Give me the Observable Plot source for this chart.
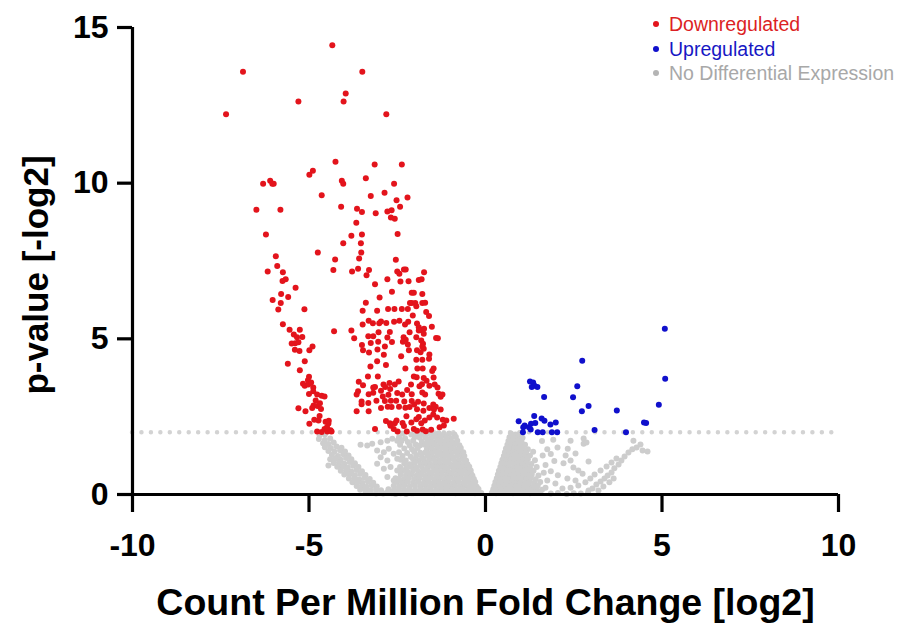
<!DOCTYPE html>
<html>
<head>
<meta charset="utf-8">
<script src="https://cdn.jsdelivr.net/npm/d3@7"></script>
<script src="https://cdn.jsdelivr.net/npm/@observablehq/plot@0.6"></script>
<style>
  body { margin: 0; background: #fff; }
  #wrap { position: relative; width: 897px; height: 625px; font-family: "Liberation Sans", Arial, sans-serif; }
  #legend { position: absolute; left: 653px; top: 12px; font-size: 19.5px; line-height: 24.5px; }
  .item { display: flex; align-items: center; white-space: nowrap; }
  .sw { width: 6px; height: 6px; border-radius: 50%; margin-right: 10px; display: inline-block; }
</style>
</head>
<body>
<div id="wrap"><div id="legend"></div></div>
<script>
// Volcano plot: log2 fold change (CPM) vs -log2 p-value

const xTicks = [-10, -5, 0, 5, 10];
const yTicks = [0, 5, 10, 15];
const cutoff = 2;
const xTitle = "Count Per Million Fold Change [log2]";
const yTitle = "p-value [-log2]";
const legendLabels = ["Downregulated", "Upregulated", "No Differential Expression"];
const legendColors = ["#dc1f24", "#1717c4", "#a8a8a8"];
const legendDots = ["#e3141c", "#1010cc", "#b4b4b4"];
const dotColors = ["#e3141c", "#1010cc", "#cdcdcd"];

// Downregulated genes [log2 FC, -log2 p]
const downregulated = [
[-4.34,14.43],[-6.87,13.58],[-3.49,13.58],[-3.96,12.88],[-5.30,12.62],[-4.02,12.62],[-7.35,12.21],[-2.81,12.21],
[-4.25,10.69],[-3.14,10.60],[-2.37,10.60],[-4.89,10.40],[-4.99,10.27],[-6.10,10.08],[-6.30,9.98],[-6.04,9.98],[-6.00,9.98],[-4.07,10.08],[-4.03,9.98],[-3.39,10.16],[-2.59,9.98],[-4.64,9.61],[-3.25,9.59],[-2.86,9.69],[-2.21,9.54],[-2.52,9.45],[-6.49,9.15],[-5.81,9.15],[-4.09,9.24],[-3.64,9.18],[-3.50,9.07],[-3.11,9.03],[-2.78,9.09],[-2.66,9.13],[-2.42,9.24],[-2.68,8.90],[-2.57,8.86],[-3.66,8.73],[-6.22,8.35],[-3.80,8.31],[-3.50,8.35],[-2.49,8.37],
[-4.03,8.07],[-3.53,8.07],[-4.75,7.77],[-3.52,7.77],[-5.94,7.65],[-4.26,7.55],[-3.58,7.58],[-2.54,7.54],[-5.90,7.34],[-6.17,7.16],[-5.74,7.14],[-4.31,7.21],[-3.78,7.16],[-3.61,7.25],[-3.30,7.21],[-3.37,7.04],[-2.50,7.16],[-2.44,7.09],[-2.31,7.23],[-2.26,7.23],[-1.74,7.14],
[-5.66,6.91],[-5.75,6.86],[-2.78,6.91],[-2.41,6.84],[-2.18,6.85],[-1.89,6.89],[-1.81,6.91],[-3.13,6.75],[-5.38,6.64],[-5.79,6.44],[-6.03,6.25],[-5.59,6.34],[-5.80,6.15],[-5.87,5.94],[-5.13,5.95],[-3.00,6.33],[-2.65,6.51],[-2.09,6.48],[-2.03,6.48],[-1.79,6.44],
[-3.39,6.16],[-2.14,6.15],[-2.09,6.15],[-1.99,6.15],[-1.79,6.15],[-1.71,6.16],[-2.76,5.96],[-2.58,5.96],[-2.37,5.96],[-2.20,5.96],[-3.48,5.90],[-3.07,5.90],[-1.96,6.05],[-1.68,5.86],[-1.60,5.73],[-2.06,5.75],
[-5.74,5.47],[-3.31,5.58],[-3.19,5.50],[-2.96,5.56],[-3.01,5.50],[-2.81,5.51],[-2.59,5.55],[-2.44,5.58],[-2.19,5.55],[-2.28,5.46],[-1.94,5.49],[-1.89,5.37],[-1.82,5.28],[-1.74,5.32],[-1.52,5.39],[-5.55,5.29],[-5.26,5.29],[-3.48,5.46],[-3.03,5.21],[-2.71,5.22],[-1.89,5.27],[-4.29,5.24],[-3.80,5.27],[-2.15,5.21],[-1.75,5.16],
[-5.43,5.14],[-5.34,5.05],[-5.19,5.06],[-3.32,5.08],[-3.18,5.08],[-2.78,5.04],[-2.32,5.05],[-2.26,4.97],[-1.40,5.03],[-1.35,5.02],[-3.72,5.02],[-3.50,4.80],[-3.25,4.87],[-3.04,4.91],[-2.65,4.90],[-2.34,4.91],[-1.96,5.05],[-1.82,4.95],[-1.77,4.84],[-1.75,4.68],
[-5.39,4.86],[-5.30,4.89],[-5.49,4.85],[-4.90,4.75],[-5.40,4.65],[-5.27,4.61],[-4.99,4.63],[-3.06,4.66],[-2.85,4.75],[-2.20,4.82],[-2.17,4.63],[-1.79,4.75],[-1.84,4.57],[-1.94,4.63],[-3.47,4.63],[-3.30,4.56],[-2.88,4.49],[-2.39,4.44],[-1.59,4.50],[-1.60,4.36],[-1.96,4.33],[-1.79,4.33],
[-5.12,4.28],[-5.60,4.20],[-3.07,4.28],[-2.82,4.16],[-3.26,4.11],[-5.26,3.99],[-2.27,4.05],[-1.93,4.05],[-1.78,4.05],[-1.47,4.05],[-1.51,3.97],
[-5.00,3.78],[-5.03,3.67],[-5.17,3.56],[-5.12,3.49],[-5.02,3.53],[-4.94,3.60],[-4.88,3.44],[-3.33,3.79],[-3.05,3.79],[-2.72,3.58],[-2.89,3.53],[-3.13,3.45],[-3.18,3.44],[-2.84,3.45],[-3.59,3.62],[-3.47,3.51],[-2.46,3.63],[-2.57,3.53],[-2.70,3.39],[-2.03,3.79],[-1.95,3.77],[-1.75,3.74],[-1.67,3.65],[-1.47,3.76],[-2.11,3.53],[-1.87,3.48],[-1.80,3.54],[-1.59,3.49],[-1.44,3.53],[-1.36,3.44],
[-4.88,3.32],[-5.00,3.23],[-4.77,3.21],[-4.64,3.17],[-4.56,3.15],[-3.61,3.32],[-3.65,3.21],[-3.31,3.22],[-3.18,3.27],[-2.96,3.33],[-2.91,3.15],[-2.75,3.20],[-2.50,3.26],[-2.36,3.21],[-2.22,3.36],[-2.09,3.22],[-1.79,3.28],[-1.71,3.21],[-1.33,3.24],[-1.27,3.14],[-1.22,3.21],
[-4.81,3.02],[-4.87,2.86],[-4.91,2.78],[-4.76,2.84],[-4.66,2.75],[-4.69,2.93],[-5.10,2.67],[-5.30,2.77],[-3.51,2.99],[-3.51,2.90],[-3.32,2.94],[-3.09,3.01],[-2.85,3.00],[-2.68,3.01],[-2.53,3.01],[-2.30,2.99],[-2.09,3.00],[-2.02,2.89],[-1.91,2.98],[-1.75,2.92],[-1.48,2.89],[-1.41,2.82],
[-3.65,2.67],[-3.31,2.67],[-2.96,2.78],[-2.77,2.82],[-2.66,2.81],[-2.45,2.82],[-2.27,2.79],[-2.15,2.81],[-1.94,2.74],[-1.76,2.69],[-1.59,2.78],[-1.46,2.73],[-1.27,2.73],
[-4.99,2.27],[-4.85,2.40],[-4.70,2.52],[-4.73,2.38],[-4.53,2.34],[-4.44,2.37],[-4.45,2.28],[-2.82,2.36],[-2.71,2.29],[-2.57,2.29],[-2.52,2.38],[-2.35,2.30],[-2.24,2.51],[-2.10,2.31],[-1.96,2.42],[-1.89,2.49],[-1.82,2.29],[-1.72,2.38],[-1.59,2.47],[-1.48,2.57],[-1.37,2.47],[-1.21,2.40],[-1.11,2.38],[-0.90,2.43],
[-4.77,2.02],[-4.64,2.01],[-4.56,2.10],[-4.48,2.02],[-4.39,2.06],[-4.36,2.02],[-3.13,2.10],[-2.60,2.10],[-2.49,2.02],[-2.23,2.02],[-2.03,2.10],[-1.94,2.05],[-1.78,2.09],[-1.69,2.03],[-1.54,2.08],[-1.30,2.16],[-1.18,2.22],[-4.49,2.16],[-2.69,2.21],[-2.31,2.20]
];

// Upregulated genes
const upregulated = [
[5.08,5.32],[2.74,4.30],[5.09,3.72],[1.26,3.63],[1.35,3.60],[1.31,3.45],[1.39,3.49],[1.47,3.45],[2.60,3.48],[1.66,3.13],[2.48,3.12],[4.91,2.88],[2.92,2.84],[2.73,2.67],[3.72,2.70],[1.38,2.52],[0.94,2.35],[1.59,2.44],[1.67,2.37],[1.41,2.30],[1.29,2.27],[1.23,2.16],[1.11,2.22],[1.07,2.16],[1.28,2.09],[1.84,2.25],[1.99,2.31],[4.49,2.31],[4.55,2.30],[3.09,2.07],[1.48,2.00],[1.62,2.00],[1.88,2.00],[2.03,2.00],[1.06,2.00],[3.98,2.00]
];

// Genes below the significance cutoff
const noDifference = [
[-4.70,1.90],[-4.55,1.93],[-4.72,1.78],[-4.55,1.75],[-4.40,1.80],[-4.60,1.65],[-4.45,1.62],[-4.30,1.67],
[-4.55,1.52],[-4.38,1.49],[-4.22,1.54],[-4.08,1.50],[-4.45,1.40],[-4.28,1.37],[-4.12,1.42],[-3.98,1.38],
[-4.35,1.27],[-4.18,1.24],[-4.03,1.29],[-3.88,1.25],[-4.40,1.13],[-4.25,1.15],[-4.10,1.12],[-3.95,1.17],[-3.80,1.13],
[-4.30,1.01],[-4.15,1.02],[-4.00,0.99],[-3.85,1.04],[-3.70,1.00],[-4.20,0.89],[-4.05,0.90],[-3.90,0.87],[-3.75,0.92],[-3.60,0.88],
[-4.10,0.76],[-3.95,0.77],[-3.80,0.74],[-3.65,0.79],[-3.50,0.75],[-4.00,0.64],[-3.85,0.65],[-3.70,0.62],[-3.55,0.67],[-3.40,0.63],
[-3.87,0.51],[-3.72,0.52],[-3.58,0.49],[-3.43,0.54],[-3.28,0.50],[-3.77,0.39],[-3.62,0.40],[-3.48,0.37],[-3.33,0.42],[-3.18,0.38],
[-3.65,0.27],[-3.50,0.28],[-3.36,0.25],[-3.22,0.30],[-3.08,0.26],[-3.55,0.15],[-3.40,0.16],[-3.25,0.13],[-3.10,0.18],[-2.96,0.14],
[-3.40,0.05],[-3.25,0.05],[-3.10,0.03],[-2.95,0.06],[-4.45,0.93],
[-3.54,1.60],[-3.35,1.57],[-3.21,1.63],[-2.97,1.68],[-2.78,1.73],[-2.64,1.79],[-2.50,1.73],[-3.07,1.41],[-2.88,1.36],[-2.74,1.47],[-2.60,1.31],[-2.97,1.20],[-2.78,1.09],[-2.50,1.15],[-3.07,0.99],[-2.88,0.83],[-2.69,0.88],[-2.50,0.77],[-2.78,0.56],[-2.60,0.45],[-2.46,0.50],
[-2.90,0.03],[-2.75,0.05],[-2.55,0.02],[-2.40,0.04],[-2.25,0.02],[-2.10,0.04],[1.85,0.03],[2.05,0.05],[2.30,0.02],[2.50,0.04],[2.70,0.03],[2.90,0.05],
[-2.35,1.96],[-2.10,1.93],[-1.92,1.97],[-1.78,1.94],[-1.62,1.96],[-1.48,1.93],[-1.33,1.97],[-1.18,1.94],[-1.03,1.96],[-0.88,1.93],
[-2.45,1.84],[-2.28,1.81],[-2.00,1.85],[-1.86,1.82],[-1.70,1.84],[-1.55,1.81],[-1.42,1.85],[-1.27,1.82],[-1.12,1.84],[-0.98,1.81],[-0.84,1.85],
[-2.38,1.72],[-2.20,1.69],[-2.05,1.73],[-1.80,1.70],[-1.64,1.72],[-1.50,1.69],[-1.36,1.73],[-1.22,1.70],[-1.08,1.72],[-0.94,1.69],[-0.80,1.73],
[-2.42,1.60],[-2.15,1.57],[-1.98,1.61],[-1.85,1.58],[-1.72,1.60],[-1.58,1.57],[-1.44,1.61],[-1.30,1.58],[-1.16,1.60],[-1.02,1.57],[-0.88,1.61],[-0.74,1.58],
[-2.30,1.48],[-2.08,1.45],[-1.92,1.49],[-1.66,1.46],[-1.52,1.48],[-1.38,1.45],[-1.24,1.49],[-1.10,1.46],[-0.96,1.48],[-0.82,1.45],[-0.70,1.49],
[-2.45,1.36],[-2.22,1.33],[-2.02,1.37],[-1.85,1.34],[-1.70,1.36],[-1.56,1.33],[-1.42,1.37],[-1.28,1.34],[-1.14,1.36],[-1.00,1.33],[-0.86,1.37],[-0.72,1.34],[-0.63,1.36],
[-2.35,1.24],[-2.12,1.21],[-1.96,1.25],[-1.80,1.22],[-1.64,1.24],[-1.50,1.21],[-1.36,1.25],[-1.22,1.22],[-1.08,1.24],[-0.94,1.21],[-0.80,1.25],[-0.66,1.22],[-0.60,1.24],
[-2.40,1.12],[-2.26,1.09],[-2.05,1.13],[-1.90,1.10],[-1.75,1.12],[-1.60,1.09],[-1.46,1.13],[-1.32,1.10],[-1.18,1.12],[-1.04,1.09],[-0.90,1.13],[-0.76,1.10],[-0.62,1.12],[-0.55,1.09],
[-2.30,1.00],[-2.15,0.97],[-2.00,1.01],[-1.84,0.98],[-1.70,1.00],[-1.56,0.97],[-1.42,1.01],[-1.28,0.98],[-1.14,1.00],[-1.00,0.97],[-0.86,1.01],[-0.72,0.98],[-0.58,1.00],[-0.51,0.97],
[-2.42,0.88],[-2.25,0.85],[-2.10,0.89],[-1.95,0.86],[-1.80,0.88],[-1.65,0.85],[-1.50,0.89],[-1.36,0.86],[-1.22,0.88],[-1.08,0.85],[-0.94,0.89],[-0.80,0.86],[-0.66,0.88],[-0.52,0.85],[-0.46,0.89],
[-2.35,0.76],[-2.20,0.73],[-2.05,0.77],[-1.90,0.74],[-1.75,0.76],[-1.60,0.73],[-1.46,0.77],[-1.32,0.74],[-1.18,0.76],[-1.04,0.73],[-0.90,0.77],[-0.76,0.74],[-0.62,0.76],[-0.48,0.73],[-0.42,0.77],
[-2.40,0.64],[-2.25,0.61],[-2.10,0.65],[-1.95,0.62],[-1.80,0.64],[-1.66,0.61],[-1.52,0.65],[-1.38,0.62],[-1.24,0.64],[-1.10,0.61],[-0.96,0.65],[-0.82,0.62],[-0.68,0.64],[-0.54,0.61],[-0.40,0.65],[-0.37,0.60],
[-2.55,0.52],[-2.32,0.49],[-2.17,0.53],[-2.02,0.50],[-1.87,0.52],[-1.72,0.49],[-1.58,0.53],[-1.44,0.50],[-1.30,0.52],[-1.16,0.49],[-1.02,0.53],[-0.88,0.50],[-0.74,0.52],[-0.60,0.49],[-0.46,0.53],[-0.33,0.50],
[-2.50,0.40],[-2.35,0.37],[-2.20,0.41],[-2.05,0.38],[-1.90,0.40],[-1.75,0.37],[-1.61,0.41],[-1.47,0.38],[-1.33,0.40],[-1.19,0.37],[-1.05,0.41],[-0.91,0.38],[-0.77,0.40],[-0.63,0.37],[-0.49,0.41],[-0.36,0.38],[-0.29,0.40],
[-2.60,0.28],[-2.45,0.25],[-2.30,0.29],[-2.15,0.26],[-2.00,0.28],[-1.85,0.25],[-1.70,0.29],[-1.56,0.26],[-1.42,0.28],[-1.28,0.25],[-1.14,0.29],[-1.00,0.26],[-0.86,0.28],[-0.72,0.25],[-0.58,0.29],[-0.44,0.26],[-0.32,0.28],[-0.25,0.25],
[-2.75,0.17],[-2.60,0.14],[-2.45,0.18],[-2.30,0.15],[-2.15,0.17],[-2.00,0.14],[-1.85,0.18],[-1.70,0.15],[-1.55,0.17],[-1.40,0.14],[-1.25,0.18],[-1.10,0.15],[-0.95,0.17],[-0.80,0.14],[-0.65,0.18],[-0.50,0.15],[-0.36,0.17],[-0.24,0.14],[-0.20,0.18],
[-2.80,0.06],[-2.65,0.04],[-2.50,0.07],[-2.35,0.05],[-2.20,0.06],[-2.05,0.04],[-1.90,0.07],[-1.75,0.05],[-1.60,0.06],[-1.45,0.04],[-1.30,0.07],[-1.15,0.05],[-1.00,0.06],[-0.85,0.04],[-0.70,0.07],[-0.55,0.05],[-0.42,0.06],[-0.30,0.04],[-0.18,0.07],[-0.12,0.05],
[0.72,1.96],[0.85,1.93],[0.98,1.97],[0.68,1.84],[0.80,1.81],[0.93,1.85],[1.05,1.82],[0.65,1.72],[0.77,1.69],[0.90,1.73],[1.02,1.70],
[0.62,1.60],[0.74,1.57],[0.86,1.61],[0.98,1.58],[1.12,1.60],[0.58,1.48],[0.70,1.45],[0.82,1.49],[0.94,1.46],[1.06,1.48],[1.20,1.45],
[0.55,1.36],[0.67,1.33],[0.79,1.37],[0.91,1.34],[1.03,1.36],[1.15,1.33],[1.35,1.37],[0.52,1.24],[0.64,1.21],[0.76,1.25],[0.88,1.22],[1.00,1.24],[1.12,1.21],[1.26,1.25],
[0.48,1.12],[0.60,1.09],[0.72,1.13],[0.84,1.10],[0.96,1.12],[1.08,1.09],[1.20,1.13],[1.40,1.10],[0.45,1.00],[0.57,0.97],[0.69,1.01],[0.81,0.98],[0.93,1.00],[1.05,0.97],[1.17,1.01],[1.30,0.98],
[0.42,0.88],[0.54,0.85],[0.66,0.89],[0.78,0.86],[0.90,0.88],[1.02,0.85],[1.14,0.89],[1.26,0.86],[1.45,0.88],[0.38,0.76],[0.50,0.73],[0.62,0.77],[0.74,0.74],[0.86,0.76],[0.98,0.73],[1.10,0.77],[1.22,0.74],[1.36,0.76],
[0.35,0.64],[0.47,0.61],[0.59,0.65],[0.71,0.62],[0.83,0.64],[0.95,0.61],[1.07,0.65],[1.19,0.62],[1.31,0.64],[1.50,0.61],[0.32,0.52],[0.44,0.49],[0.56,0.53],[0.68,0.50],[0.80,0.52],[0.92,0.49],[1.04,0.53],[1.16,0.50],[1.28,0.52],[1.42,0.49],
[0.28,0.40],[0.40,0.37],[0.52,0.41],[0.64,0.38],[0.76,0.40],[0.88,0.37],[1.00,0.41],[1.12,0.38],[1.24,0.40],[1.38,0.37],[1.55,0.40],[0.25,0.28],[0.37,0.25],[0.49,0.29],[0.61,0.26],[0.73,0.28],[0.85,0.25],[0.97,0.29],[1.09,0.26],[1.21,0.28],[1.34,0.25],[1.48,0.29],
[0.22,0.17],[0.34,0.14],[0.46,0.18],[0.58,0.15],[0.70,0.17],[0.82,0.14],[0.94,0.18],[1.06,0.15],[1.18,0.17],[1.30,0.14],[1.45,0.18],[1.60,0.15],
[0.18,0.06],[0.30,0.04],[0.42,0.07],[0.54,0.05],[0.66,0.06],[0.78,0.04],[0.90,0.07],[1.02,0.05],[1.14,0.06],[1.26,0.04],[1.40,0.07],[1.55,0.05],
[1.92,1.76],[2.41,1.73],[2.78,1.63],[2.04,1.51],[2.33,1.47],[1.60,1.72],[1.75,1.45],[1.62,1.25],[1.85,1.30],[2.27,1.25],[2.55,1.32],[2.41,1.09],[2.21,1.00],[1.95,1.08],[1.70,0.95],[2.49,0.87],[2.63,0.77],[2.75,0.67],[1.85,0.75],[2.05,0.62],[1.65,0.70],[2.32,0.51],[2.55,0.45],[1.98,0.35],[2.18,0.19],[2.41,0.22],[2.63,0.29],[2.83,0.39],[1.75,0.45],[1.70,0.22],
[2.78,1.80],[2.86,1.67],[2.92,1.06],[2.92,0.13],[3.03,0.19],[3.14,0.32],[3.26,0.42],[3.37,0.51],[3.46,0.61],[3.57,0.71],[3.65,0.84],[3.77,0.96],[3.85,1.09],[3.94,1.22],[4.05,1.35],[4.16,1.45],[4.28,1.51],[4.39,1.61],[4.45,1.41],[4.59,1.38],[4.19,1.73],
[3.20,0.13],[3.34,0.26],[3.51,0.39],[3.63,0.51],[2.97,0.51],[3.09,0.64],[3.26,0.77],[3.43,0.90],[3.57,1.03],[3.71,1.16]
];

const fx = d => d[0], fy = d => d[1];
const font = "'Liberation Sans', Arial, sans-serif";

const chart = Plot.plot({
  width: 897,
  height: 625,
  marginTop: 27,
  marginRight: 59,
  marginBottom: 131,
  marginLeft: 132,
  style: { fontFamily: font, fontWeight: "bold", background: "transparent", overflow: "visible" },
  x: { domain: [-10, 10] },
  y: { domain: [0, 15] },
  marks: [
    Plot.ruleY([cutoff], { x1: -10, x2: 10, stroke: "#d3d3d3", strokeWidth: 4.5, strokeDasharray: "0,9.45", strokeLinecap: "round" }),
    Plot.dot(noDifference, { x: fx, y: fy, r: 3, fill: dotColors[2], stroke: null }),
    Plot.dot(downregulated, { x: fx, y: fy, r: 3, fill: dotColors[0], stroke: null }),
    Plot.dot(upregulated, { x: fx, y: fy, r: 3, fill: dotColors[1], stroke: null }),
    Plot.ruleY([0], { x1: -10, x2: 10, stroke: "#000", strokeWidth: 3.2 }),
    Plot.ruleX([-10], { y1: 0, y2: 15, stroke: "#000", strokeWidth: 3.2 }),
    Plot.axisX(xTicks, { tickSize: 18, tickPadding: 21, strokeWidth: 3.2, fontSize: 32, fontWeight: "bold", tickFormat: d => String(d), label: null }),
    Plot.axisY(yTicks, { tickSize: 15, tickPadding: 9, strokeWidth: 3.2, fontSize: 32, fontWeight: "bold", tickFormat: d => String(d), label: null }),
    Plot.text([xTitle], { frameAnchor: "bottom", textAnchor: "middle", lineAnchor: "middle", dy: 108, fontSize: 37.5, fontWeight: "bold", fill: "#000" }),
    Plot.text([yTitle], { frameAnchor: "left", textAnchor: "middle", lineAnchor: "middle", dx: -96, dy: 14, rotate: -90, fontSize: 35, fontWeight: "bold", fill: "#000" })
  ]
});

const wrap = document.getElementById("wrap");
wrap.insertBefore(chart, wrap.firstChild);

// Legend
const legend = d3.select("#legend");
legendLabels.forEach((label, i) => {
  const row = legend.append("div").attr("class", "item").style("color", legendColors[i]);
  row.append("span").attr("class", "sw").style("background", legendDots[i]);
  row.append("span").text(label);
});
</script>
</body>
</html>
